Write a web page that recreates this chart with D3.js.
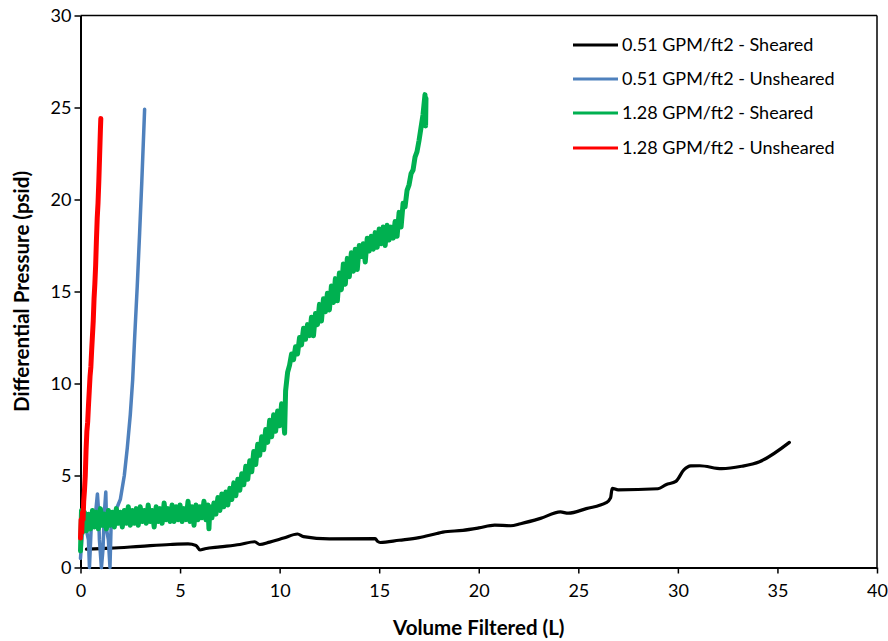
<!DOCTYPE html>
<html><head><meta charset="utf-8">
<script src="https://cdn.jsdelivr.net/npm/d3@7/dist/d3.min.js"></script>
<style>body{margin:0;background:#fff}svg{display:block}</style>
</head><body><svg id="c" width="888" height="641"></svg>
<script>
const seriesNames = ["0.51 GPM/ft2 - Sheared","0.51 GPM/ft2 - Unsheared","1.28 GPM/ft2 - Sheared","1.28 GPM/ft2 - Unsheared"];
const seriesColors = ["#000000","#4F81BD","#00B050","#FF0000"];
const xTicks = [0,5,10,15,20,25,30,35,40];
const yTicks = [0,5,10,15,20,25,30];

const blackV = [0.3,1.5,3,4.5,5.4,5.8,6.0,6.25,7,8,8.75,9.0,9.5,10.2,10.9,11.2,12.5,14.8,14.92,15.05,16,17,17.9,18.2,19.2,20.0,20.8,21.6,22.1,23.1,24.1,24.5,25.4,26.4,26.62,26.7,27.0,29.0,29.4,29.9,30.3,30.65,31.1,32.2,33.2,34.1,35.6];
const blackP = [1.0,1.05,1.15,1.25,1.28,1.2,0.95,1.02,1.12,1.25,1.4,1.25,1.38,1.6,1.82,1.68,1.56,1.57,1.42,1.36,1.48,1.62,1.85,1.92,2.02,2.15,2.3,2.27,2.38,2.67,3.02,2.95,3.2,3.52,3.78,4.3,4.22,4.28,4.5,4.68,5.3,5.52,5.53,5.37,5.5,5.75,6.8];

const blueV = [0,0.1,0.2,0.3,0.4,0.45,0.55,0.7,0.85,0.9,0.95,1.05,1.13,1.2,1.27,1.32,1.4,1.48,1.55,1.7,1.85,2.0,2.2,2.35,2.5,2.62,2.72,2.85,2.97,3.08,3.22];
const blueP = [0.5,2.0,2.3,2.0,1.5,0.0,2.5,2.3,4.0,3.2,1.5,0.0,1.0,3.0,4.1,2.0,1.5,0.0,2.8,3.0,3.3,3.7,5.0,6.5,8.3,10.2,12.5,15.3,18.2,21.0,24.9];

const greenV = [0,0.05,0.1,0.2,0.3,0.4,0.5,0.6,0.7,0.8,0.9,1.0,1.1,1.2,1.3,1.4,1.5,1.6,1.7,1.8,1.9,2.0,2.1,2.2,2.3,2.4,2.5,2.6,2.7,2.8,2.9,3.0,3.1,3.2,3.3,3.4,3.5,3.6,3.7,3.8,3.9,4.0,4.1,4.2,4.3,4.4,4.5,4.6,4.7,4.8,4.9,5.0,5.1,5.2,5.3,5.4,5.5,5.6,5.7,5.8,5.9,6.0,6.1,6.2,6.3,6.4,6.45,6.5,6.6,6.7,6.8,6.9,7.0,7.1,7.2,7.3,7.4,7.5,7.6,7.7,7.8,7.9,8.0,8.1,8.2,8.3,8.4,8.5,8.6,8.7,8.8,8.9,9.0,9.1,9.2,9.3,9.4,9.5,9.6,9.7,9.8,9.9,10.0,10.1,10.2,10.25,10.3,10.4,10.5,10.6,10.7,10.8,10.9,11.0,11.1,11.2,11.3,11.4,11.5,11.6,11.7,11.8,11.9,12.0,12.1,12.2,12.3,12.4,12.5,12.6,12.7,12.8,12.9,13.0,13.1,13.2,13.3,13.4,13.5,13.6,13.7,13.8,13.9,14.0,14.1,14.2,14.3,14.4,14.5,14.6,14.7,14.8,14.9,15.0,15.1,15.2,15.3,15.4,15.5,15.6,15.7,15.8,15.9,16.0,16.1,16.2,16.3,16.4,16.5,16.6,16.7,16.8,16.9,17.0,17.1,17.2,17.3,17.33,17.35];
const greenP = [0.9,3.1,1.9,3.0,2.0,2.9,2.1,3.1,2.2,3.0,2.1,3.2,2.3,2.9,2.1,3.1,2.3,3.0,2.2,3.2,2.4,3.0,2.2,3.1,2.4,3.3,2.3,3.1,2.4,3.2,2.3,3.3,2.5,3.1,2.4,3.4,2.5,3.1,2.2,3.3,2.5,3.2,2.4,3.5,2.6,3.2,2.5,3.4,2.5,3.3,2.6,3.4,2.5,3.2,2.6,3.6,2.5,3.3,2.3,3.4,2.6,3.3,2.7,3.6,2.6,3.4,2.1,3.3,2.7,3.5,2.9,3.8,3.1,4.0,3.3,4.1,3.4,4.3,3.7,4.6,3.9,4.8,4.2,5.1,4.5,5.5,4.8,5.8,5.2,6.3,5.6,6.7,6.1,7.1,6.4,7.5,6.8,8.0,7.1,8.3,7.4,8.5,7.7,8.9,8.1,7.3,9.6,10.6,11.0,11.6,11.3,12.0,11.6,12.5,12.1,13.0,12.4,13.2,12.6,13.6,12.6,13.8,13.2,14.3,13.4,14.6,13.9,14.9,14.0,15.3,14.4,15.7,14.5,16.0,15.1,16.5,15.4,16.8,15.8,17.1,16.1,17.3,16.2,17.5,16.9,17.6,16.6,17.9,17.2,18.0,17.3,18.2,17.4,18.4,17.6,18.5,17.5,18.6,17.8,18.5,17.9,18.8,18.0,19.3,18.5,19.8,19.6,20.5,20.8,21.4,21.6,22.3,22.6,23.2,23.9,24.6,25.7,24.0,25.5];

const redV = [0,0.03,0.06,0.1,0.13,0.16,0.2,0.24,0.28,0.32,0.36,0.4,0.44,0.48,0.52,0.56,0.6,0.64,0.68,0.72,0.76,0.8,0.84,0.88,0.92,0.96,1.0,1.02];
const redP = [1.6,2.6,1.9,3.0,2.6,3.6,4.2,5.0,6.4,7.4,7.9,8.8,9.6,10.4,10.9,11.8,12.6,13.4,14.6,15.4,16.4,17.8,19.0,19.8,21.0,22.4,23.8,24.4];

const svg = d3.select("#c");
const L = 80.5, R = 877, T = 15.5, B = 567.5;
const x = d3.scaleLinear().domain([0,40]).range([L,R]);
const y = d3.scaleLinear().domain([0,30]).range([B,T]);
const font = "Lato, 'Open Sans', sans-serif";

const series = [
  {v: blackV, p: blackP, w: 3.2},
  {v: blueV, p: blueP, w: 3.5},
  {v: greenV, p: greenP, w: 5},
  {v: redV, p: redP, w: 5}
];

svg.append("line").attr("x1",L).attr("x2",R).attr("y1",T).attr("y2",T).attr("stroke","#000").attr("stroke-width",1.5);
svg.append("line").attr("x1",R).attr("x2",R).attr("y1",T).attr("y2",B).attr("stroke","#000").attr("stroke-width",1.5);

const gx = svg.append("g").attr("transform",`translate(0,${B})`)
  .call(d3.axisBottom(x).tickValues(xTicks).tickSize(6).tickSizeOuter(0).tickPadding(11));
const gy = svg.append("g").attr("transform",`translate(${L},0)`)
  .call(d3.axisLeft(y).tickValues(yTicks).tickSize(6).tickSizeOuter(0).tickPadding(3));
[gx,gy].forEach(g=>{
  g.select(".domain").attr("stroke","#000").attr("stroke-width",2);
  g.selectAll(".tick line").attr("stroke","#000").attr("stroke-width",1.5);
  g.selectAll(".tick text").attr("fill","#000").style("font-family",font).style("font-size","18px");
});

const line = d3.line().x(d=>x(d[0])).y(d=>y(d[1]));
series.forEach((s,i)=>{
  const data = s.v.map((v,j)=>[v,s.p[j]]);
  svg.append("path").datum(data).attr("d",line.curve(i===0?d3.curveMonotoneX:d3.curveLinear))
    .attr("fill","none").attr("stroke",seriesColors[i]).attr("stroke-width",s.w)
    .attr("stroke-linejoin","round").attr("stroke-linecap","round");
});

const legY = [45,79,113,148];
seriesNames.forEach((n,i)=>{
  svg.append("line").attr("x1",573).attr("x2",618).attr("y1",legY[i]).attr("y2",legY[i])
    .attr("stroke",seriesColors[i]).attr("stroke-width",3);
  svg.append("text").attr("x",622).attr("y",legY[i]).attr("dy","0.35em").text(n)
    .style("font-family",font).style("font-size","18px").attr("fill","#000");
});

svg.append("text").attr("x",(L+R)/2).attr("y",635).attr("text-anchor","middle")
  .text("Volume Filtered (L)").style("font-family",font).style("font-size","20.5px").style("font-weight","bold");
svg.append("text").attr("transform",`translate(29,${(T+B)/2}) rotate(-90)`).attr("text-anchor","middle")
  .text("Differential Pressure (psid)").style("font-family",font).style("font-size","20.5px").style("font-weight","bold");
</script></body></html>
